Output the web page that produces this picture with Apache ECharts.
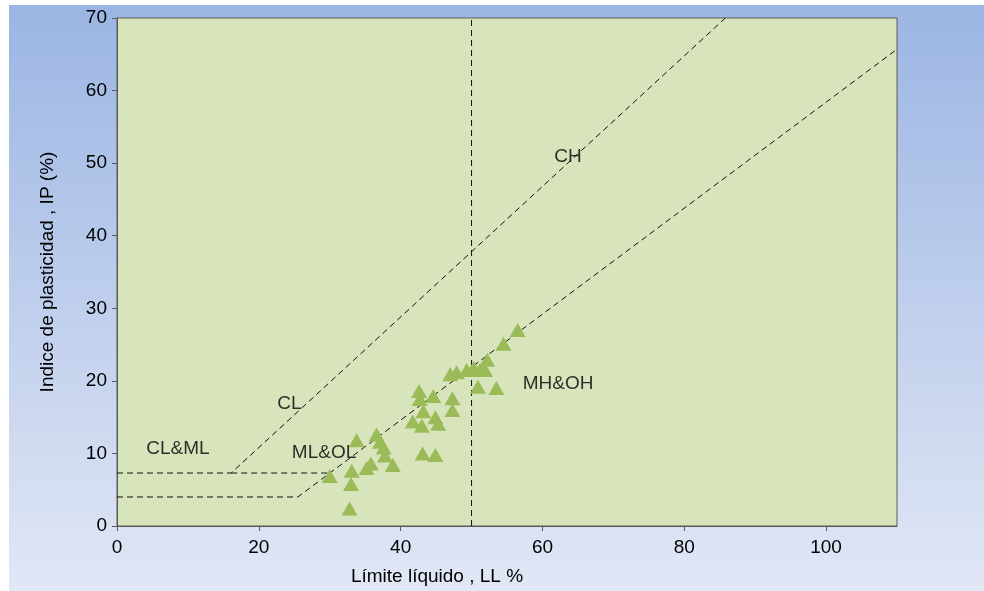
<!DOCTYPE html>
<html>
<head>
<meta charset="utf-8">
<script src="https://cdn.jsdelivr.net/npm/echarts@6/dist/echarts.min.js"></script>
<style>html,body{margin:0;padding:0;background:#fff}#c{width:984px;height:591px}</style>
</head>
<body>
<div id="c"></div>
<script>
// Data: liquid limit (LL) and plasticity index (IP) of the samples
var samplesLL = [56.5, 54.5, 52.2, 51.9, 47.0, 47.9, 49.3, 50.3, 51.2, 50.9, 53.5, 42.6, 42.7, 44.6, 47.3, 47.3, 43.2, 44.9, 41.7, 43.0, 45.3, 33.8, 36.6, 37.1, 37.6, 37.8, 38.9, 35.8, 35.2, 33.1, 33.0, 30.0, 32.8, 43.1, 44.9];
var samplesIP = [27.0, 25.1, 22.9, 21.5, 20.9, 21.2, 21.5, 21.8, 21.5, 19.2, 19.0, 18.6, 17.5, 17.9, 17.6, 16.0, 15.8, 15.0, 14.4, 13.8, 14.1, 11.8, 12.6, 11.6, 10.8, 9.7, 8.4, 8.6, 8.0, 7.6, 5.8, 6.9, 2.4, 10.0, 9.8];

// Classification boundary lines (LL, IP)
var uLineLL = [0, 16.1, 85.8];
var uLineIP = [7.3, 7.3, 70];
var upperHorizLL = [16.1, 30.0];
var upperHorizIP = [7.3, 7.3];
var aLineLL = [0, 25.5, 110];
var aLineIP = [4, 4, 65.7];
var vLineLL = [50, 50];
var vLineIP = [0, 70];

// Zone labels
var zoneNames = ['CH', 'CL', 'CL&ML', 'ML&OL', 'MH&OH'];
var zoneLL = [63.6, 24.3, 8.6, 29.2, 62.2];
var zoneIP = [50.9, 16.9, 10.6, 10.1, 19.6];

var xTicks = {min: 0, max: 110, interval: 20};
var yTicks = {min: 0, max: 70, interval: 10};

function zip(a, b) { return a.map(function (v, i) { return [v, b[i]]; }); }

var chart = echarts.init(document.getElementById('c'));
var dashStyle = {color: '#111', width: 1, type: [6, 4]};
var font = '"Liberation Sans", Arial, sans-serif';

chart.setOption({
  backgroundColor: '#ffffff',
  animation: false,
  graphic: [{
    type: 'rect', z: -100, silent: true,
    shape: {x: 9, y: 5, width: 975, height: 586},
    style: {fill: new echarts.graphic.LinearGradient(0, 0, 0, 1, [
      {offset: 0, color: '#9bb5e3'},
      {offset: 1, color: '#e1e7f5'}
    ])}
  }],
  grid: {left: 117, right: 87, top: 18, bottom: 65, show: true,
    backgroundColor: '#d8e4bc', borderColor: '#5a5a5a', borderWidth: 1},
  xAxis: {
    type: 'value', min: xTicks.min, max: xTicks.max, interval: xTicks.interval,
    name: 'Límite líquido , LL %', nameLocation: 'middle', nameGap: 41,
    nameTextStyle: {fontSize: 19, color: '#000', fontFamily: font, padding: [0, 140, 0, 0]},
    axisLine: {lineStyle: {color: '#5a5a5a', width: 1}},
    axisTick: {show: true, length: 5, lineStyle: {color: '#5a5a5a'}},
    axisLabel: {fontSize: 19, color: '#000', fontFamily: font, margin: 12, showMaxLabel: false},
    splitLine: {show: false}
  },
  yAxis: {
    type: 'value', min: yTicks.min, max: yTicks.max, interval: yTicks.interval,
    name: 'Indice de plasticidad , IP (%)', nameLocation: 'middle', nameGap: 60,
    nameTextStyle: {fontSize: 19, color: '#000', fontFamily: font},
    axisLine: {lineStyle: {color: '#5a5a5a', width: 1}},
    axisTick: {show: true, length: 5, lineStyle: {color: '#5a5a5a'}},
    axisLabel: {fontSize: 19, color: '#000', fontFamily: font, margin: 10},
    splitLine: {show: false}
  },
  series: [
    {type: 'line', data: zip(uLineLL, uLineIP), symbol: 'none', lineStyle: dashStyle, silent: true, z: 2},
    {type: 'line', data: zip(upperHorizLL, upperHorizIP), symbol: 'none', lineStyle: dashStyle, silent: true, z: 2},
    {type: 'line', data: zip(aLineLL, aLineIP), symbol: 'none', lineStyle: dashStyle, silent: true, z: 2},
    {type: 'line', data: zip(vLineLL, vLineIP), symbol: 'none', lineStyle: dashStyle, silent: true, z: 2},
    {type: 'scatter', data: zip(samplesLL, samplesIP), symbol: 'triangle', symbolSize: [16, 14],
      itemStyle: {color: '#9bbb59', opacity: 1}, z: 5},
    {type: 'scatter', symbolSize: 0, silent: true, z: 6,
      data: zoneNames.map(function (n, i) { return {name: n, value: [zoneLL[i], zoneIP[i]]}; }),
      label: {show: true, position: 'inside', formatter: '{b}', fontSize: 19, color: '#000', fontFamily: font}}
  ]
});
</script>
</body>
</html>
